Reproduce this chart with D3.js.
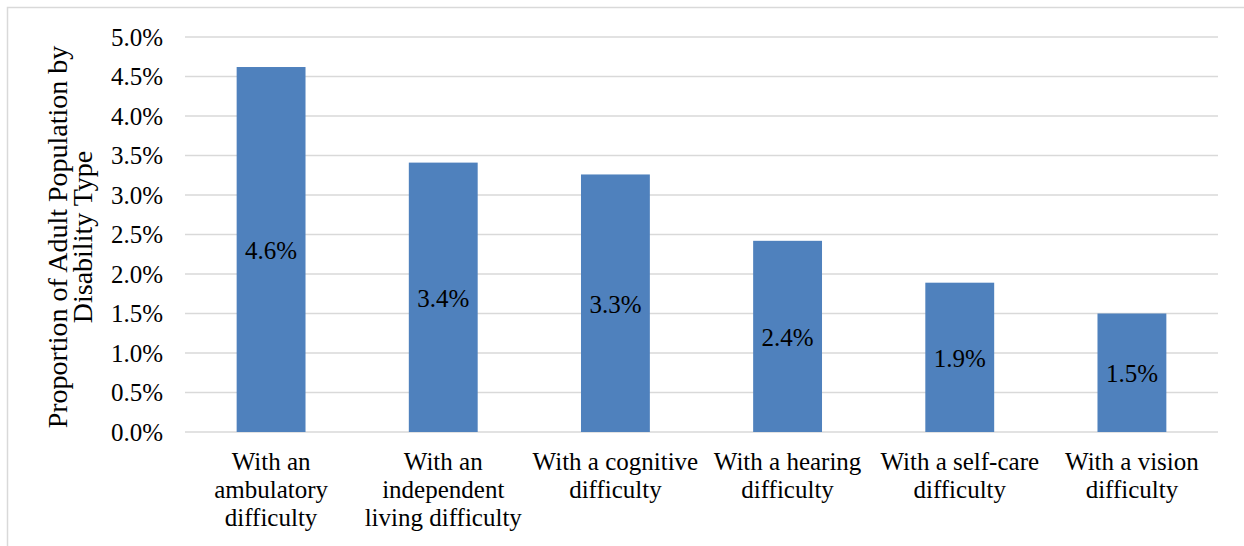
<!DOCTYPE html>
<html><head><meta charset="utf-8">
<script src="https://cdn.jsdelivr.net/npm/d3@7"></script>
<style>body{margin:0;background:#fff;} svg{display:block;}</style>
</head><body><svg id="c" width="1244" height="546"></svg>
<script>
const categories = [
  ["With an","ambulatory","difficulty"],
  ["With an","independent","living difficulty"],
  ["With a cognitive","difficulty"],
  ["With a hearing","difficulty"],
  ["With a self-care","difficulty"],
  ["With a vision","difficulty"]
];
const values = [4.62, 3.41, 3.26, 2.42, 1.89, 1.50];
const valueLabels = ["4.6%","3.4%","3.3%","2.4%","1.9%","1.5%"];
const yTicks = [0,0.5,1,1.5,2,2.5,3,3.5,4,4.5,5];
const yTitle = ["Proportion of Adult Population by","Disability Type"];

(function(){
const svg = d3.select("#c");
const font = "'Liberation Serif', serif";
const fs = 25;
svg.append("rect").attr("x",7.5).attr("y",7.5).attr("width",1300).attr("height",600)
  .attr("fill","none").attr("stroke","#d9d9d9").attr("stroke-width",1.5);

const pL=185, pR=1218, pT=37, pB=432;
const x = d3.scaleBand().domain(d3.range(values.length)).range([pL,pR]).paddingInner(0.6).paddingOuter(0.3);
const y = d3.scaleLinear().domain([0,5]).range([pB,pT]);

svg.append("g").selectAll("line").data(yTicks).join("line")
  .attr("x1",pL).attr("x2",pR).attr("y1",d=>y(d)).attr("y2",d=>y(d))
  .attr("stroke","#d9d9d9").attr("stroke-width",1.5);

svg.append("g").selectAll("text").data(yTicks).join("text")
  .attr("x",163).attr("y",d=>y(d)).attr("dy","0.35em").attr("text-anchor","end")
  .attr("font-family",font).attr("font-size",fs).attr("fill","#000")
  .text(d=>d.toFixed(1)+"%");

svg.append("g").selectAll("rect").data(values).join("rect")
  .attr("x",(d,i)=>x(i)).attr("width",x.bandwidth())
  .attr("y",d=>y(d)).attr("height",d=>y(0)-y(d)).attr("fill","#4F81BD");

svg.append("g").selectAll("text").data(values).join("text")
  .attr("x",(d,i)=>x(i)+x.bandwidth()/2).attr("y",d=>(y(d)+y(0))/2).attr("dy","0.38em")
  .attr("text-anchor","middle").attr("font-family",font).attr("font-size",fs).attr("fill","#000")
  .text((d,i)=>valueLabels[i]);

const xl = svg.append("g").selectAll("text").data(categories).join("text")
  .attr("x",(d,i)=>x(i)+x.bandwidth()/2).attr("y",470)
  .attr("text-anchor","middle").attr("font-family",font).attr("font-size",fs).attr("fill","#000");
xl.selectAll("tspan").data(d=>d).join("tspan")
  .attr("x",function(){return d3.select(this.parentNode).attr("x");})
  .attr("dy",(d,j)=>j===0?0:28).text(d=>d);

const yt = svg.append("text").attr("transform","translate(0,237) rotate(-90)")
  .attr("text-anchor","middle").attr("font-family",font).attr("font-size",28).attr("fill","#000");
yt.selectAll("tspan").data(yTitle).join("tspan").attr("x",0)
  .attr("y",(d,j)=>j===0?67:92).text(d=>d);
})();
</script></body></html>
